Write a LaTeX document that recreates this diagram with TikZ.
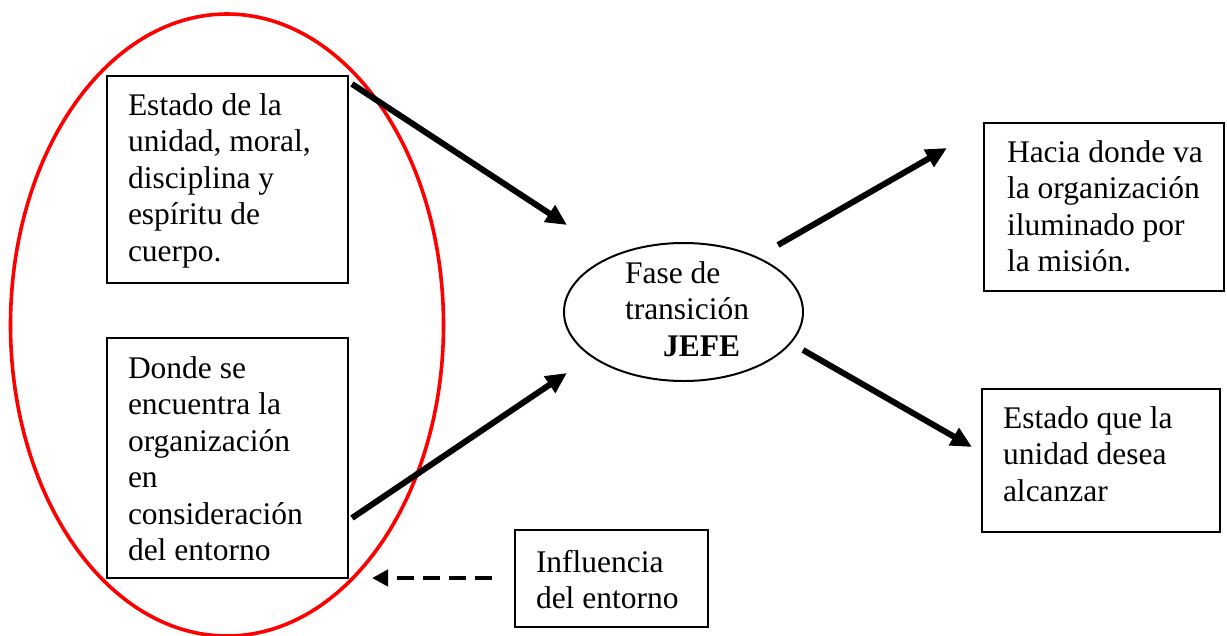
\documentclass[tikz,border=0pt]{standalone}
\usepackage{fontspec}
\setmainfont{Liberation Serif}
\usetikzlibrary{shapes.geometric,arrows.meta,calc}
\newcommand{\boxtxt}[5]{\parbox[c][#2][t]{#1}{\raggedright\leftskip=#3\relax\vspace*{#4}\strut #5}}
\begin{document}
\begin{tikzpicture}[x=1pt,y=-1pt,
  font=\fontsize{31.5pt}{36.5pt}\selectfont,
  txtbox/.style={draw, line width=2pt, rectangle, inner sep=0pt, outer sep=0pt, anchor=north west},
  bigarrow/.style={line width=6pt, -{Triangle[length=21pt,width=19pt]}},
  dasharrow/.style={line width=4.5pt, dash pattern=on 17pt off 9pt, -{Triangle[length=16pt,width=16pt]}},
  groupoval/.style={draw=red, line width=3.6pt, ellipse, inner sep=0pt},
  phaseoval/.style={draw, line width=2pt, ellipse, inner sep=0pt}]
\useasboundingbox (0,0) rectangle (1227,635);

% red grouping ellipse
\node[groupoval, minimum width=433pt, minimum height=622pt] (grp) at (227,325) {};

% boxes
\node[txtbox] (b1) at (107,76) {\boxtxt{241pt}{207pt}{21pt}{13.5pt}{Estado de la\\unidad, moral,\\disciplina y\\espíritu de\\cuerpo.}};
\node[txtbox] (b2) at (107,338) {\boxtxt{241pt}{240pt}{21pt}{14.5pt}{Donde se\\encuentra la\\organización\\en\\consideración\\del entorno}};
\node[txtbox] (b3) at (984,123) {\boxtxt{240pt}{168pt}{23pt}{13.5pt}{Hacia donde va\\la organización\\iluminado por\\la misión.}};
\node[txtbox] (b4) at (982,389) {\boxtxt{238pt}{143pt}{21pt}{13.5pt}{Estado que la\\unidad desea\\alcanzar}};
\node[txtbox] (b5) at (515,530) {\boxtxt{193pt}{97pt}{21pt}{16.5pt}{Influencia\\del entorno}};

% central ellipse
\node[phaseoval, minimum width=239pt, minimum height=138pt] (fase) at (683.5,312)
  {\makebox[0pt][l]{\raisebox{29pt}[0pt][0pt]{\hspace*{-58.5pt}\parbox[t]{150pt}{Fase de\\transición\\\hspace*{38pt}\textbf{JEFE}}}}};

% arrow end points
\coordinate (a1s) at (352,84);
\coordinate (a1e) at (567,225);
\coordinate (a2s) at (352,518);
\coordinate (a2e) at (567,373);
\coordinate (a3s) at (778,245);
\coordinate (a3e) at (947,148);
\coordinate (a4s) at (803,350);
\coordinate (a4e) at (972,447);
\coordinate (a5s) at (492,578);
\coordinate (a5e) at (372,578);

\draw[bigarrow] (a1s) -- (a1e);
\draw[bigarrow] (a2s) -- (a2e);
\draw[bigarrow] (a3s) -- (a3e);
\draw[bigarrow] (a4s) -- (a4e);
\draw[dasharrow] (a5s) -- (a5e);
\end{tikzpicture}
\end{document}
